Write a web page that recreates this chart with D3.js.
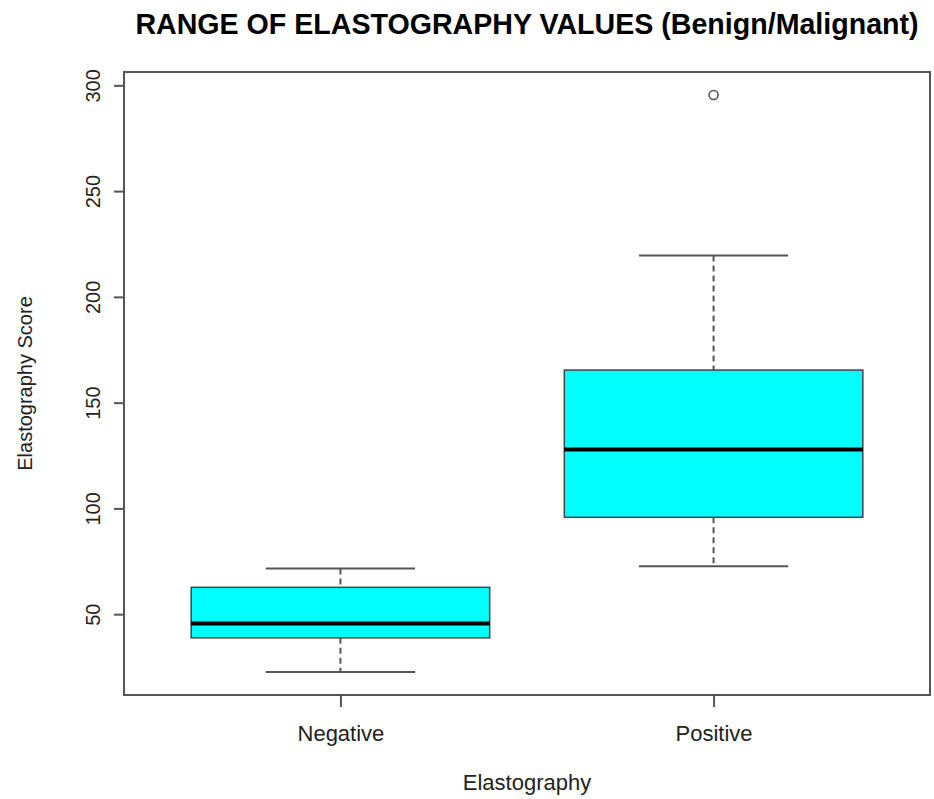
<!DOCTYPE html>
<html>
<head>
<meta charset="utf-8">
<script src="https://cdnjs.cloudflare.com/ajax/libs/d3/7.8.5/d3.min.js"></script>
<style>
  body { margin: 0; background: #fff; }
  text { font-family: "Liberation Sans", Arial, sans-serif; fill: #222; }
</style>
</head>
<body>
<div id="viz"></div>
<script>
(function() {

// boxplot stats
var categories = ["Negative", "Positive"];
var lowerWhisker = [22.7, 72.7];
var q1 = [38.8, 95.8];
var median = [45.6, 127.9];
var q3 = [62.7, 165.4];
var upperWhisker = [71.6, 219.6];
var outliers = [[], [295.4]];
var yTicks = [50, 100, 150, 200, 250, 300];

var width = 934, height = 799;
var left = 124, right = 930, top = 72, bottom = 695;

var svg = d3.select("#viz")
    .append("svg")
    .attr("width", width)
    .attr("height", height);

// R style: 4% padding around data range
var x = d3.scaleLinear().domain([0.42, 2.58]).range([left, right]);
var yMin = d3.min(lowerWhisker), yMax = d3.max([d3.max(upperWhisker), d3.max(outliers, function(d){return d3.max(d) || 0;})]);
var pad = (yMax - yMin) * 0.04;
var y = d3.scaleLinear().domain([yMin - pad, yMax + pad]).range([bottom, top]);

var data = categories.map(function(c, i) {
    return {name: c, pos: i + 1, lo: lowerWhisker[i], q1: q1[i], med: median[i], q3: q3[i], hi: upperWhisker[i], out: outliers[i]};
});

var g = svg.selectAll("g.box")
    .data(data)
    .enter().append("g")
    .attr("class", "box");

// whiskers (dashed)
g.append("line")
    .attr("x1", function(d){return x(d.pos);})
    .attr("x2", function(d){return x(d.pos);})
    .attr("y1", function(d){return y(d.hi);})
    .attr("y2", function(d){return y(d.q3);})
    .style("stroke", "#555")
    .style("stroke-width", 2)
    .style("stroke-dasharray", "6,4");
g.append("line")
    .attr("x1", function(d){return x(d.pos);})
    .attr("x2", function(d){return x(d.pos);})
    .attr("y1", function(d){return y(d.q1);})
    .attr("y2", function(d){return y(d.lo);})
    .style("stroke", "#555")
    .style("stroke-width", 2)
    .style("stroke-dasharray", "6,4");

// caps
g.selectAll("line.cap")
    .data(function(d){return [{pos: d.pos, v: d.hi}, {pos: d.pos, v: d.lo}];})
    .enter().append("line")
    .attr("class", "cap")
    .attr("x1", function(d){return x(d.pos - 0.2);})
    .attr("x2", function(d){return x(d.pos + 0.2);})
    .attr("y1", function(d){return y(d.v);})
    .attr("y2", function(d){return y(d.v);})
    .style("stroke", "#555")
    .style("stroke-width", 2);

// box
g.append("rect")
    .attr("x", function(d){return x(d.pos - 0.4);})
    .attr("width", function(d){return x(d.pos + 0.4) - x(d.pos - 0.4);})
    .attr("y", function(d){return y(d.q3);})
    .attr("height", function(d){return y(d.q1) - y(d.q3);})
    .style("fill", "#00ffff")
    .style("stroke", "#444")
    .style("stroke-width", 1.5);

// median
g.append("line")
    .attr("x1", function(d){return x(d.pos - 0.4);})
    .attr("x2", function(d){return x(d.pos + 0.4);})
    .attr("y1", function(d){return y(d.med);})
    .attr("y2", function(d){return y(d.med);})
    .style("stroke", "#000")
    .style("stroke-width", 4);

// outliers
g.selectAll("circle")
    .data(function(d){return d.out.map(function(v){return {pos: d.pos, v: v};});})
    .enter().append("circle")
    .attr("cx", function(d){return x(d.pos);})
    .attr("cy", function(d){return y(d.v);})
    .attr("r", 4.5)
    .style("fill", "none")
    .style("stroke", "#555")
    .style("stroke-width", 1.6);

// frame
svg.append("rect")
    .attr("x", left)
    .attr("y", top)
    .attr("width", right - left)
    .attr("height", bottom - top)
    .style("fill", "none")
    .style("stroke", "#555")
    .style("stroke-width", 2);

// y axis
var yAxis = svg.append("g")
    .attr("transform", "translate(" + left + ",0)")
    .call(d3.axisLeft(y).tickValues(yTicks).tickSize(10).tickSizeOuter(0));
yAxis.select(".domain").remove();
yAxis.selectAll(".tick line").style("stroke", "#555").style("stroke-width", 2);
yAxis.selectAll(".tick text")
    .attr("x", 0).attr("dy", 0)
    .attr("transform", "translate(-24,0) rotate(-90)")
    .attr("text-anchor", "middle")
    .style("font-size", "20px")
    .style("fill", "#222")
    .style("font-family", "Liberation Sans, Arial, sans-serif");

// x axis
var xAxis = svg.append("g")
    .attr("transform", "translate(0," + bottom + ")")
    .call(d3.axisBottom(x).tickValues([1, 2]).tickFormat(function(d){return categories[d - 1];}).tickSize(12).tickSizeOuter(0));
xAxis.select(".domain").remove();
xAxis.selectAll(".tick line").style("stroke", "#555").style("stroke-width", 2);
xAxis.selectAll(".tick text")
    .attr("y", 46).attr("dy", 0)
    .style("font-size", "22px")
    .style("fill", "#222")
    .style("font-family", "Liberation Sans, Arial, sans-serif");

// titles
svg.append("text")
    .attr("x", (left + right) / 2)
    .attr("y", 34)
    .attr("text-anchor", "middle")
    .style("font-size", "28.6px")
    .style("font-weight", "bold")
    .style("fill", "#000")
    .text("RANGE OF ELASTOGRAPHY VALUES (Benign/Malignant)");

svg.append("text")
    .attr("x", (left + right) / 2)
    .attr("y", 790)
    .attr("text-anchor", "middle")
    .style("font-size", "22px")
    .text("Elastography");

svg.append("text")
    .attr("transform", "translate(32," + ((top + bottom) / 2) + ") rotate(-90)")
    .attr("text-anchor", "middle")
    .style("font-size", "20px")
    .text("Elastography Score");

})();
</script>
</body>
</html>
